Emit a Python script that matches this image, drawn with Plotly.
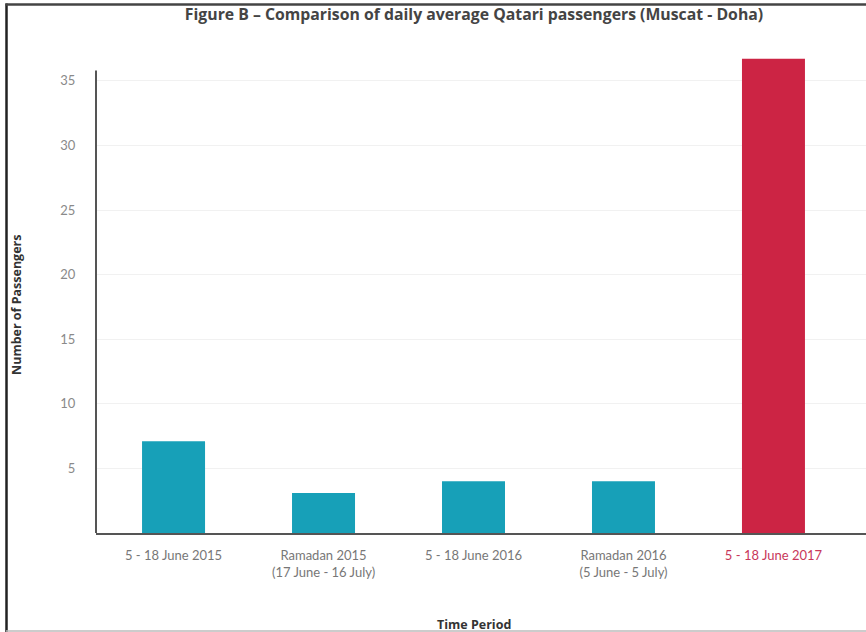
import plotly.graph_objects as go

# Daily average Qatari passengers on the Muscat - Doha route
periods = [
    "5 - 18 June 2015",
    "Ramadan 2015<br>(17 June - 16 July)",
    "5 - 18 June 2016",
    "Ramadan 2016<br>(5 June - 5 July)",
    "5 - 18 June 2017",
]
passengers = [7.1, 3.1, 4.0, 4.0, 36.7]
bar_colors = ["#17a0b8", "#17a0b8", "#17a0b8", "#17a0b8", "#cc2444"]
label_colors = ["#777777", "#777777", "#777777", "#777777", "#c8375a"]
y_ticks = [5, 10, 15, 20, 25, 30, 35]

positions = list(range(len(periods)))

fig = go.Figure(
    go.Bar(
        x=positions,
        y=passengers,
        marker=dict(color=bar_colors, line=dict(width=0)),
        width=0.42,
        hoverinfo="skip",
    )
)

W, H = 866, 632
L, R, T, B = 96, 0, 40, 99
plot_w = W - L - R
plot_h = H - T - B


def px_x(px):
    return (px - L) / plot_w


def px_y(py):
    return (H - B - py) / plot_h


fig.update_layout(
    width=W,
    height=H,
    margin=dict(l=L, r=R, t=T, b=B),
    paper_bgcolor="white",
    plot_bgcolor="white",
    showlegend=False,
    font=dict(family="Lato, Open Sans, sans-serif", color="#777777"),
    title=dict(
        text="<b>Figure B – Comparison of daily average Qatari passengers (Muscat - Doha)</b>",
        x=474 / W,
        xanchor="center",
        y=1 - 14 / H,
        yanchor="middle",
        font=dict(family="Open Sans, sans-serif", size=15.8, color="#444444"),
    ),
    xaxis=dict(
        range=[-0.517, 4.617],
        tickvals=positions,
        ticktext=[
            f"<span style='color:{c}'>{t}</span>" for t, c in zip(periods, label_colors)
        ],
        tickfont=dict(size=13, color="#777777"),
        showgrid=False,
        zeroline=False,
        showline=True,
        linecolor="#555555",
        linewidth=2,
        ticks="outside",
        ticklen=9,
        tickcolor="rgba(0,0,0,0)",
        fixedrange=True,
    ),
    yaxis=dict(
        range=[0, 38.16],
        tickvals=y_ticks,
        tickfont=dict(size=13, color="#8a8a8a"),
        showgrid=True,
        gridcolor="#f1f1f1",
        gridwidth=1,
        zeroline=False,
        showline=False,
        ticks="outside",
        ticklen=17,
        tickcolor="rgba(0,0,0,0)",
        fixedrange=True,
    ),
    shapes=[
        # y axis line, stopping just above the top tick
        dict(type="line", xref="paper", yref="y", x0=0, x1=0, y0=0, y1=35.8,
             line=dict(color="#555555", width=2), layer="above"),
        # outer frame (left, top, bottom)
        dict(type="line", xref="paper", yref="paper", x0=px_x(6.5), x1=px_x(6.5),
             y0=px_y(3.5), y1=px_y(632), line=dict(color="#222222", width=2.5)),
        dict(type="line", xref="paper", yref="paper", x0=px_x(5.5), x1=px_x(866),
             y0=px_y(4.5), y1=px_y(4.5), line=dict(color="#444444", width=2.5)),
        dict(type="line", xref="paper", yref="paper", x0=px_x(6), x1=px_x(866),
             y0=px_y(631), y1=px_y(631), line=dict(color="#bbbbbb", width=1.5)),
    ],
    annotations=[
        dict(text="<b>Number of Passengers</b>", xref="paper", yref="paper",
             x=px_x(16), y=px_y(305), textangle=-90, showarrow=False,
             xanchor="center", yanchor="middle",
             font=dict(family="Open Sans, sans-serif", size=12.5, color="#333333")),
        dict(text="<b>Time Period</b>", xref="paper", yref="paper",
             x=px_x(474), y=px_y(624), showarrow=False,
             xanchor="center", yanchor="middle",
             font=dict(family="Open Sans, sans-serif", size=12.5, color="#333333")),
    ],
)

fig.write_html("out.html")
